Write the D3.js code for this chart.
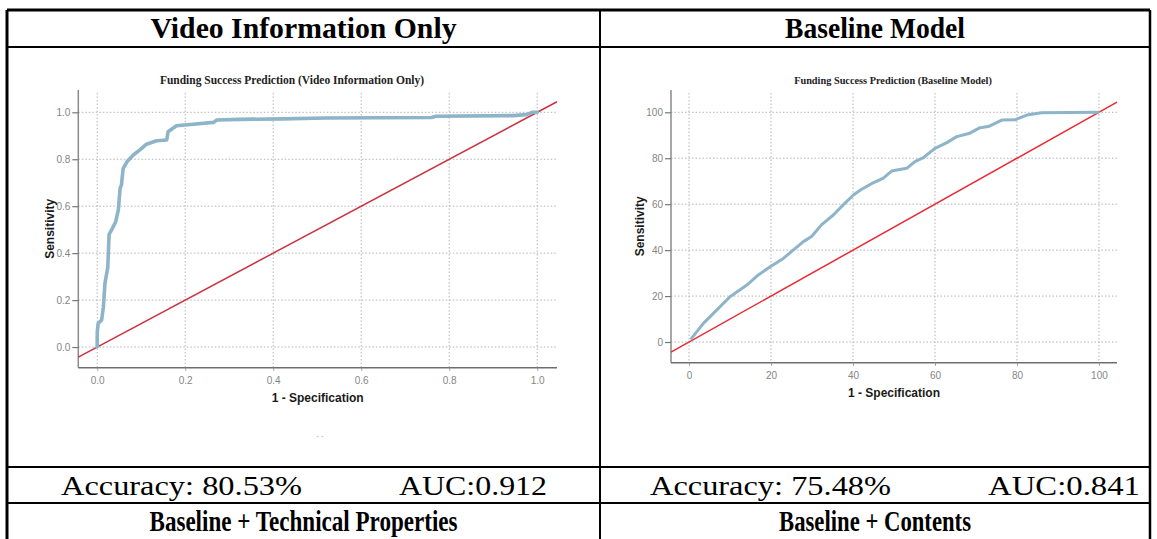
<!DOCTYPE html>
<html>
<head>
<meta charset="utf-8">
<script src="https://cdn.jsdelivr.net/npm/d3@7"></script>
<style>
  html, body { margin: 0; padding: 0; background: #fff; }
  svg { display: block; }
</style>
</head>
<body>
<svg id="fig" width="1157" height="539"></svg>
<script>
// ---- Table text ----
const headerTitles = ["Video Information  Only", "Baseline Model"];
const chartTitles = ["Funding Success Prediction (Video Information Only)", "Funding Success Prediction (Baseline Model)"];
const accuracyValues = ["80.53%", "75.48%"];
const aucValues = ["0.912", "0.841"];
const footerTitles = ["Baseline + Technical Properties", "Baseline + Contents"];

// ---- ROC curve: video information only (fraction scale) ----
const videoFpr = [0, 0, 0.002, 0.010, 0.014, 0.0175, 0.024, 0.027, 0.033, 0.042, 0.048, 0.052, 0.055, 0.059,
  0.068, 0.082, 0.097, 0.112, 0.135, 0.158, 0.161, 0.180, 0.218, 0.264, 0.272, 0.324, 0.42, 0.52, 0.76, 0.77,
  0.945, 0.975, 0.99, 1.0];
const videoTpr = [0, 0.06, 0.10, 0.115, 0.17, 0.27, 0.34, 0.48, 0.50, 0.534, 0.584, 0.676, 0.69, 0.761,
  0.79, 0.818, 0.84, 0.864, 0.879, 0.882, 0.917, 0.943, 0.949, 0.957, 0.967, 0.970, 0.972, 0.976, 0.978, 0.983,
  0.986, 0.99, 1.0, 1.0];
const videoTicks = [0, 0.2, 0.4, 0.6, 0.8, 1.0];

// ---- ROC curve: baseline model (percent scale) ----
const baseFpr = [0.6, 3.5, 6.8, 10, 14.1, 16.9, 19.8, 23, 25.4, 27.9, 29.9, 32.3, 35.2, 37.6, 40.1, 41.9, 44.5,
  47.4, 49.4, 53.1, 55.1, 57.2, 60, 62.9, 65.3, 68.5, 71, 73, 76.3, 79.5, 82.4, 86, 99.8];
const baseTpr = [1.6, 8.1, 14, 19.7, 24.8, 29.2, 32.8, 36.4, 40, 43.7, 45.9, 51, 55.3, 59.7, 64, 66.3, 68.9,
  71.3, 74.4, 75.6, 78.5, 80.3, 84.3, 86.8, 89.4, 90.9, 93.3, 93.8, 96.6, 96.7, 98.8, 99.8, 100];
const baseTicks = [0, 20, 40, 60, 80, 100];

const svg = d3.select("#fig");
const serif = "'Liberation Serif', 'Times New Roman', serif";
const sans = "'Liberation Sans', Arial, sans-serif";

// ---- table grid ----
const tbl = { left: 7, right: 1150, mid: 600, top: 10, rows: [47, 467, 503] };
const grid = svg.append("g").attr("stroke", "#000").attr("fill", "none");
grid.append("line").attr("x1", tbl.left).attr("x2", tbl.left).attr("y1", tbl.top).attr("y2", 539).attr("stroke-width", 3);
grid.append("line").attr("x1", tbl.right).attr("x2", tbl.right).attr("y1", tbl.top).attr("y2", 539).attr("stroke-width", 2.5);
grid.append("line").attr("x1", tbl.mid).attr("x2", tbl.mid).attr("y1", tbl.top).attr("y2", 539).attr("stroke-width", 2);
grid.append("line").attr("x1", tbl.left).attr("x2", tbl.right).attr("y1", tbl.top).attr("y2", tbl.top).attr("stroke-width", 3);
tbl.rows.forEach(y => grid.append("line").attr("x1", tbl.left).attr("x2", tbl.right).attr("y1", y).attr("y2", y).attr("stroke-width", 2));

// condensed serif text: larger glyphs squeezed into the measured width
const cells = [
  { cx: (tbl.left + tbl.mid) / 2, accX: 61, accW: 241, aucX: 399, aucW: 148, headW: 306, footW: 308 },
  { cx: (tbl.mid + tbl.right) / 2, accX: 650, accW: 241, aucX: 988, aucW: 152, headW: 180, footW: 192 }
];

cells.forEach((c, i) => {
  svg.append("text").attr("x", c.cx).attr("y", 38).attr("text-anchor", "middle")
    .attr("font-family", serif).attr("font-weight", "bold").attr("font-size", 29)
    .attr("textLength", c.headW).attr("lengthAdjust", "spacingAndGlyphs")
    .text(headerTitles[i]);
  svg.append("text").attr("x", c.accX).attr("y", 495)
    .attr("font-family", serif).attr("font-size", 28)
    .attr("textLength", c.accW).attr("lengthAdjust", "spacingAndGlyphs")
    .text("Accuracy:  " + accuracyValues[i]);
  svg.append("text").attr("x", c.aucX).attr("y", 495)
    .attr("font-family", serif).attr("font-size", 28)
    .attr("textLength", c.aucW).attr("lengthAdjust", "spacingAndGlyphs")
    .text("AUC:" + aucValues[i]);
  svg.append("text").attr("x", c.cx).attr("y", 531).attr("text-anchor", "middle")
    .attr("font-family", serif).attr("font-weight", "bold").attr("font-size", 29)
    .attr("textLength", c.footW).attr("lengthAdjust", "spacingAndGlyphs")
    .text(footerTitles[i]);
});

// ---- ROC chart ----
function rocChart(opts) {
  const { fpr, tpr, ticks, xDomain, yDomain, xRange, yRange, fmt, title, curveWidth, diagColor } = opts;
  const x = d3.scaleLinear().domain(xDomain).range(xRange);
  const y = d3.scaleLinear().domain(yDomain).range(yRange);
  const g = svg.append("g");
  const [x0, x1] = xRange, [yb, yt] = yRange;

  // dotted grid
  g.append("g").selectAll("line").data(ticks).join("line")
    .attr("x1", d => x(d)).attr("x2", d => x(d)).attr("y1", yt + 3).attr("y2", yb)
    .attr("stroke", "#b4b4b4").attr("stroke-width", 1).attr("stroke-dasharray", "1.5,2");
  g.append("g").selectAll("line").data(ticks).join("line")
    .attr("x1", x0).attr("x2", x1).attr("y1", d => y(d)).attr("y2", d => y(d))
    .attr("stroke", "#b4b4b4").attr("stroke-width", 1).attr("stroke-dasharray", "1.5,2");

  // axes
  const yAxis = g.append("g").attr("transform", `translate(${x0},0)`)
    .call(d3.axisLeft(y).tickValues(ticks).tickFormat(fmt).tickSize(6).tickPadding(2));
  yAxis.select(".domain").attr("d", `M0,${yt}V${yb}`).attr("stroke", "#8a8a8a").attr("stroke-width", 1.5);
  yAxis.selectAll(".tick line").attr("stroke", "#777").attr("stroke-width", 1.2);
  yAxis.selectAll(".tick text").attr("fill", "#858585").attr("font-family", sans).attr("font-size", 10);

  const xAxis = g.append("g").attr("transform", `translate(0,${yb})`)
    .call(d3.axisBottom(x).tickValues(ticks).tickFormat(fmt).tickSize(3).tickPadding(6));
  xAxis.select(".domain").attr("d", `M${x0},0H${x1}`).attr("stroke", "#6e6e6e").attr("stroke-width", 1.5);
  xAxis.selectAll(".tick line").attr("stroke", "#999");
  xAxis.selectAll(".tick text").attr("fill", "#858585").attr("font-family", sans).attr("font-size", 10);

  // reference diagonal
  const line = d3.line().x(d => x(d[0])).y(d => y(d[1]));
  g.append("path").datum([[xDomain[0], xDomain[0]], [xDomain[1], xDomain[1]]])
    .attr("d", line).attr("fill", "none").attr("stroke", diagColor).attr("stroke-width", 1.5);

  // ROC curve
  g.append("path").datum(fpr.map((f, i) => [f, tpr[i]]))
    .attr("d", line).attr("fill", "none").attr("stroke", "#8db4c9")
    .attr("stroke-width", curveWidth).attr("stroke-linejoin", "round").attr("stroke-linecap", "round");

  g.append("text").attr("x", opts.titleX).attr("y", 84).attr("text-anchor", "middle")
    .attr("font-family", serif).attr("font-weight", "bold").attr("font-size", opts.titleSize).attr("fill", "#222")
    .text(title);
  g.append("text").attr("x", (x0 + x1) / 2).attr("y", yb + 34).attr("text-anchor", "middle")
    .attr("font-family", sans).attr("font-weight", "bold").attr("font-size", 12).attr("fill", "#1a1a1a")
    .text("1 - Specification");
  g.append("text").attr("transform", `translate(${opts.ylabX},${(yt + yb) / 2}) rotate(-90)`)
    .attr("text-anchor", "middle")
    .attr("font-family", sans).attr("font-weight", "bold").attr("font-size", 12).attr("fill", "#1a1a1a")
    .text("Sensitivity");
  return { x, y };
}

rocChart({
  fpr: videoFpr, tpr: videoTpr, ticks: videoTicks,
  xDomain: [-0.043, 1.045], yDomain: [-0.088, 1.095],
  xRange: [78.3, 557], yRange: [367.7, 90],
  fmt: d3.format(".1f"), title: chartTitles[0], titleX: 292, titleSize: 11.5,
  curveWidth: 3.6, diagColor: "#c9323f", ylabX: 54
});
rocChart({
  fpr: baseFpr, tpr: baseTpr, ticks: baseTicks,
  xDomain: [-4.4, 104.4], yDomain: [-9, 109.7],
  xRange: [671, 1117], yRange: [362.7, 90],
  fmt: d3.format("d"), title: chartTitles[1], titleX: 893, titleSize: 10.3,
  curveWidth: 3, diagColor: "#ea2a33", ylabX: 644
});

// faint mark below the left chart
svg.append("text").attr("x", 320).attr("y", 438).attr("text-anchor", "middle")
  .attr("font-family", sans).attr("font-size", 8).attr("fill", "#aaa").text("- -");
</script>
</body>
</html>
